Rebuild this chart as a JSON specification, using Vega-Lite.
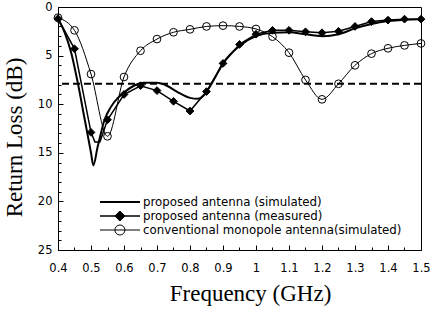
{
  "$schema": "https://vega.github.io/schema/vega-lite/v6.json",
  "width": 363,
  "height": 243,
  "autosize": {"type": "none"},
  "padding": {"left": 58, "top": 7, "right": 10, "bottom": 59},
  "background": "white",
  "config": {
    "view": {"stroke": "black", "strokeWidth": 1},
    "axis": {
      "grid": false,
      "domainColor": "black",
      "domainWidth": 1,
      "tickColor": "black",
      "tickWidth": 1,
      "labelColor": "black",
      "titleColor": "black",
      "labelFont": "DejaVu Sans",
      "labelFontSize": 11.5,
      "titleFont": "Liberation Serif",
      "titleFontSize": 23,
      "titleFontWeight": "normal",
      "labelOverlap": false,
      "labelFlush": false
    },
    "legend": {
      "labelFont": "DejaVu Sans",
      "labelFontSize": 11.8,
      "labelColor": "black",
      "labelLimit": 400,
      "padding": 0,
      "rowPadding": 0,
      "clipHeight": 14
    }
  },
  "resolve": {"axis": {"x": "independent", "y": "independent"}},
  "datasets": {
    "curves": [
      {"f": 0.40, "db": 1.2, "c": "proposed antenna (simulated)"},
      {"f": 0.42, "db": 2.6, "c": "proposed antenna (simulated)"},
      {"f": 0.44, "db": 4.7, "c": "proposed antenna (simulated)"},
      {"f": 0.46, "db": 7.8, "c": "proposed antenna (simulated)"},
      {"f": 0.48, "db": 11.4, "c": "proposed antenna (simulated)"},
      {"f": 0.50, "db": 15.0, "c": "proposed antenna (simulated)"},
      {"f": 0.507, "db": 16.3, "c": "proposed antenna (simulated)"},
      {"f": 0.52, "db": 14.4, "c": "proposed antenna (simulated)"},
      {"f": 0.53, "db": 13.0, "c": "proposed antenna (simulated)"},
      {"f": 0.54, "db": 11.7, "c": "proposed antenna (simulated)"},
      {"f": 0.55, "db": 10.9, "c": "proposed antenna (simulated)"},
      {"f": 0.57, "db": 9.8, "c": "proposed antenna (simulated)"},
      {"f": 0.60, "db": 8.8, "c": "proposed antenna (simulated)"},
      {"f": 0.63, "db": 8.1, "c": "proposed antenna (simulated)"},
      {"f": 0.66, "db": 7.8, "c": "proposed antenna (simulated)"},
      {"f": 0.70, "db": 7.8, "c": "proposed antenna (simulated)"},
      {"f": 0.73, "db": 8.1, "c": "proposed antenna (simulated)"},
      {"f": 0.76, "db": 8.7, "c": "proposed antenna (simulated)"},
      {"f": 0.80, "db": 9.35, "c": "proposed antenna (simulated)"},
      {"f": 0.824, "db": 9.45, "c": "proposed antenna (simulated)"},
      {"f": 0.84, "db": 9.15, "c": "proposed antenna (simulated)"},
      {"f": 0.86, "db": 8.2, "c": "proposed antenna (simulated)"},
      {"f": 0.88, "db": 7.0, "c": "proposed antenna (simulated)"},
      {"f": 0.90, "db": 5.8, "c": "proposed antenna (simulated)"},
      {"f": 0.95, "db": 4.0, "c": "proposed antenna (simulated)"},
      {"f": 1.00, "db": 3.0, "c": "proposed antenna (simulated)"},
      {"f": 1.05, "db": 2.65, "c": "proposed antenna (simulated)"},
      {"f": 1.10, "db": 2.6, "c": "proposed antenna (simulated)"},
      {"f": 1.15, "db": 2.8, "c": "proposed antenna (simulated)"},
      {"f": 1.20, "db": 3.0, "c": "proposed antenna (simulated)"},
      {"f": 1.25, "db": 2.8, "c": "proposed antenna (simulated)"},
      {"f": 1.30, "db": 2.2, "c": "proposed antenna (simulated)"},
      {"f": 1.35, "db": 1.75, "c": "proposed antenna (simulated)"},
      {"f": 1.40, "db": 1.45, "c": "proposed antenna (simulated)"},
      {"f": 1.45, "db": 1.3, "c": "proposed antenna (simulated)"},
      {"f": 1.50, "db": 1.25, "c": "proposed antenna (simulated)"},
      {"f": 0.40, "db": 1.2, "c": "proposed antenna (measured)"},
      {"f": 0.45, "db": 4.3, "c": "proposed antenna (measured)"},
      {"f": 0.50, "db": 12.9, "c": "proposed antenna (measured)"},
      {"f": 0.512, "db": 13.9, "c": "proposed antenna (measured)"},
      {"f": 0.527, "db": 13.9, "c": "proposed antenna (measured)"},
      {"f": 0.55, "db": 11.6, "c": "proposed antenna (measured)"},
      {"f": 0.60, "db": 9.0, "c": "proposed antenna (measured)"},
      {"f": 0.65, "db": 8.1, "c": "proposed antenna (measured)"},
      {"f": 0.70, "db": 8.6, "c": "proposed antenna (measured)"},
      {"f": 0.75, "db": 9.7, "c": "proposed antenna (measured)"},
      {"f": 0.80, "db": 10.7, "c": "proposed antenna (measured)"},
      {"f": 0.85, "db": 8.7, "c": "proposed antenna (measured)"},
      {"f": 0.90, "db": 5.8, "c": "proposed antenna (measured)"},
      {"f": 0.95, "db": 3.85, "c": "proposed antenna (measured)"},
      {"f": 1.00, "db": 2.8, "c": "proposed antenna (measured)"},
      {"f": 1.05, "db": 2.4, "c": "proposed antenna (measured)"},
      {"f": 1.10, "db": 2.4, "c": "proposed antenna (measured)"},
      {"f": 1.15, "db": 2.55, "c": "proposed antenna (measured)"},
      {"f": 1.20, "db": 2.65, "c": "proposed antenna (measured)"},
      {"f": 1.25, "db": 2.5, "c": "proposed antenna (measured)"},
      {"f": 1.30, "db": 2.0, "c": "proposed antenna (measured)"},
      {"f": 1.35, "db": 1.5, "c": "proposed antenna (measured)"},
      {"f": 1.40, "db": 1.35, "c": "proposed antenna (measured)"},
      {"f": 1.45, "db": 1.25, "c": "proposed antenna (measured)"},
      {"f": 1.50, "db": 1.25, "c": "proposed antenna (measured)"},
      {"f": 0.40, "db": 1.1, "c": "conventional monopole antenna(simulated)"},
      {"f": 0.45, "db": 2.4, "c": "conventional monopole antenna(simulated)"},
      {"f": 0.50, "db": 6.9, "c": "conventional monopole antenna(simulated)"},
      {"f": 0.55, "db": 13.3, "c": "conventional monopole antenna(simulated)"},
      {"f": 0.60, "db": 7.2, "c": "conventional monopole antenna(simulated)"},
      {"f": 0.65, "db": 4.5, "c": "conventional monopole antenna(simulated)"},
      {"f": 0.70, "db": 3.3, "c": "conventional monopole antenna(simulated)"},
      {"f": 0.75, "db": 2.6, "c": "conventional monopole antenna(simulated)"},
      {"f": 0.80, "db": 2.3, "c": "conventional monopole antenna(simulated)"},
      {"f": 0.85, "db": 2.0, "c": "conventional monopole antenna(simulated)"},
      {"f": 0.90, "db": 1.92, "c": "conventional monopole antenna(simulated)"},
      {"f": 0.95, "db": 2.0, "c": "conventional monopole antenna(simulated)"},
      {"f": 1.00, "db": 2.26, "c": "conventional monopole antenna(simulated)"},
      {"f": 1.05, "db": 3.05, "c": "conventional monopole antenna(simulated)"},
      {"f": 1.10, "db": 4.7, "c": "conventional monopole antenna(simulated)"},
      {"f": 1.15, "db": 7.5, "c": "conventional monopole antenna(simulated)"},
      {"f": 1.20, "db": 9.5, "c": "conventional monopole antenna(simulated)"},
      {"f": 1.25, "db": 7.9, "c": "conventional monopole antenna(simulated)"},
      {"f": 1.30, "db": 6.0, "c": "conventional monopole antenna(simulated)"},
      {"f": 1.35, "db": 4.8, "c": "conventional monopole antenna(simulated)"},
      {"f": 1.40, "db": 4.25, "c": "conventional monopole antenna(simulated)"},
      {"f": 1.45, "db": 3.95, "c": "conventional monopole antenna(simulated)"},
      {"f": 1.50, "db": 3.75, "c": "conventional monopole antenna(simulated)"}
    ],
    "markers": [
      {"f": 0.40, "db": 1.1, "m": "conventional"},
      {"f": 0.45, "db": 2.4, "m": "conventional"},
      {"f": 0.50, "db": 6.9, "m": "conventional"},
      {"f": 0.55, "db": 13.3, "m": "conventional"},
      {"f": 0.60, "db": 7.2, "m": "conventional"},
      {"f": 0.65, "db": 4.5, "m": "conventional"},
      {"f": 0.70, "db": 3.3, "m": "conventional"},
      {"f": 0.75, "db": 2.6, "m": "conventional"},
      {"f": 0.80, "db": 2.3, "m": "conventional"},
      {"f": 0.85, "db": 2.0, "m": "conventional"},
      {"f": 0.90, "db": 1.92, "m": "conventional"},
      {"f": 0.95, "db": 2.0, "m": "conventional"},
      {"f": 1.00, "db": 2.26, "m": "conventional"},
      {"f": 1.05, "db": 3.05, "m": "conventional"},
      {"f": 1.10, "db": 4.7, "m": "conventional"},
      {"f": 1.15, "db": 7.5, "m": "conventional"},
      {"f": 1.20, "db": 9.5, "m": "conventional"},
      {"f": 1.25, "db": 7.9, "m": "conventional"},
      {"f": 1.30, "db": 6.0, "m": "conventional"},
      {"f": 1.35, "db": 4.8, "m": "conventional"},
      {"f": 1.40, "db": 4.25, "m": "conventional"},
      {"f": 1.45, "db": 3.95, "m": "conventional"},
      {"f": 1.50, "db": 3.75, "m": "conventional"},
      {"f": 0.40, "db": 1.2, "m": "measured"},
      {"f": 0.45, "db": 4.3, "m": "measured"},
      {"f": 0.50, "db": 12.9, "m": "measured"},
      {"f": 0.55, "db": 11.6, "m": "measured"},
      {"f": 0.60, "db": 9.0, "m": "measured"},
      {"f": 0.65, "db": 8.1, "m": "measured"},
      {"f": 0.70, "db": 8.6, "m": "measured"},
      {"f": 0.75, "db": 9.7, "m": "measured"},
      {"f": 0.80, "db": 10.7, "m": "measured"},
      {"f": 0.85, "db": 8.7, "m": "measured"},
      {"f": 0.90, "db": 5.8, "m": "measured"},
      {"f": 0.95, "db": 3.85, "m": "measured"},
      {"f": 1.00, "db": 2.8, "m": "measured"},
      {"f": 1.05, "db": 2.4, "m": "measured"},
      {"f": 1.10, "db": 2.4, "m": "measured"},
      {"f": 1.15, "db": 2.55, "m": "measured"},
      {"f": 1.20, "db": 2.65, "m": "measured"},
      {"f": 1.25, "db": 2.5, "m": "measured"},
      {"f": 1.30, "db": 2.0, "m": "measured"},
      {"f": 1.35, "db": 1.5, "m": "measured"},
      {"f": 1.40, "db": 1.35, "m": "measured"},
      {"f": 1.45, "db": 1.25, "m": "measured"},
      {"f": 1.50, "db": 1.25, "m": "measured"}
    ],
    "ref": [{"db": 7.9}]
  },
  "layer": [
    {
      "data": {"name": "ref"},
      "mark": {"type": "rule", "color": "black", "strokeWidth": 2, "strokeDash": [7, 4]},
      "encoding": {
        "y": {"field": "db", "type": "quantitative", "scale": {"domain": [0, 25], "reverse": true, "nice": false}, "axis": null}
      }
    },
    {
      "data": {"name": "curves"},
      "transform": [{"filter": "datum.c != 'proposed antenna (measured)'"}],
      "mark": {"type": "line", "color": "black", "interpolate": "monotone"},
      "encoding": {
        "x": {"field": "f", "type": "quantitative", "scale": {"domain": [0.4, 1.5], "nice": false, "zero": false},
          "axis": {"orient": "bottom", "title": "Frequency (GHz)", "values": [0.4,0.5,0.6,0.7,0.8,0.9,1,1.1,1.2,1.3,1.4,1.5],
            "format": "~g", "labelOverlap": false, "tickSize": -5,
            "labelPadding": 17.5, "titleX": 192, "titleY": 50, "titleBaseline": "alphabetic"}},
        "y": {"field": "db", "type": "quantitative",
          "axis": {"orient": "left", "title": "Return Loss (dB)", "values": [0, 5, 10, 15, 20, 25],
            "labelOverlap": false, "tickSize": -5,
            "labelPadding": 11, "titleX": -37, "titleY": 130, "titleBaseline": "alphabetic"}},
        "strokeWidth": {"field": "c", "type": "nominal",
          "scale": {"domain": ["proposed antenna (simulated)", "proposed antenna (measured)", "conventional monopole antenna(simulated)"], "range": [2, 1, 1]},
          "legend": {"title": null, "orient": "none", "legendX": 41, "legendY": 188, "symbolType": "stroke", "symbolSize": 1600, "symbolStrokeColor": "black", "labelOffset": 2}}
      }
    },
    {
      "data": {"name": "curves"},
      "transform": [{"filter": "datum.c == 'proposed antenna (measured)'"}],
      "mark": {"type": "line", "color": "black", "interpolate": "linear"},
      "encoding": {
        "x": {"field": "f", "type": "quantitative",
          "axis": {"orient": "bottom", "title": null, "labels": false, "domain": false, "tickSize": -3,
            "values": [0.45,0.55,0.65,0.75,0.85,0.95,1.05,1.15,1.25,1.35,1.45]}},
        "y": {"field": "db", "type": "quantitative",
          "axis": {"orient": "left", "title": null, "labels": false, "domain": false, "tickSize": -3,
            "values": [1,2,3,4,6,7,8,9,11,12,13,14,16,17,18,19,21,22,23,24]}},
        "strokeWidth": {"field": "c", "type": "nominal"}
      }
    },
    {
      "data": {"name": "markers"},
      "mark": {"type": "point", "filled": true, "size": 60, "strokeWidth": 1, "opacity": 1},
      "encoding": {
        "x": {"field": "f", "type": "quantitative", "axis": null},
        "y": {"field": "db", "type": "quantitative", "axis": null},
        "shape": {"field": "m", "type": "nominal",
          "scale": {"domain": ["simulated", "measured", "conventional"], "range": ["circle", "diamond", "circle"]},
          "legend": {"title": null, "orient": "none", "legendX": 56, "legendY": 188, "labelExpr": "''", "symbolStrokeWidth": 1}},
        "fill": {"field": "m", "type": "nominal",
          "scale": {"domain": ["simulated", "measured", "conventional"], "range": ["transparent", "black", "transparent"]},
          "legend": {"title": null, "orient": "none", "legendX": 56, "legendY": 188, "labelExpr": "''", "symbolStrokeWidth": 1}},
        "stroke": {"field": "m", "type": "nominal",
          "scale": {"domain": ["simulated", "measured", "conventional"], "range": ["transparent", "black", "black"]},
          "legend": {"title": null, "orient": "none", "legendX": 56, "legendY": 188, "labelExpr": "''", "symbolStrokeWidth": 1}}
      }
    }
  ]
}
